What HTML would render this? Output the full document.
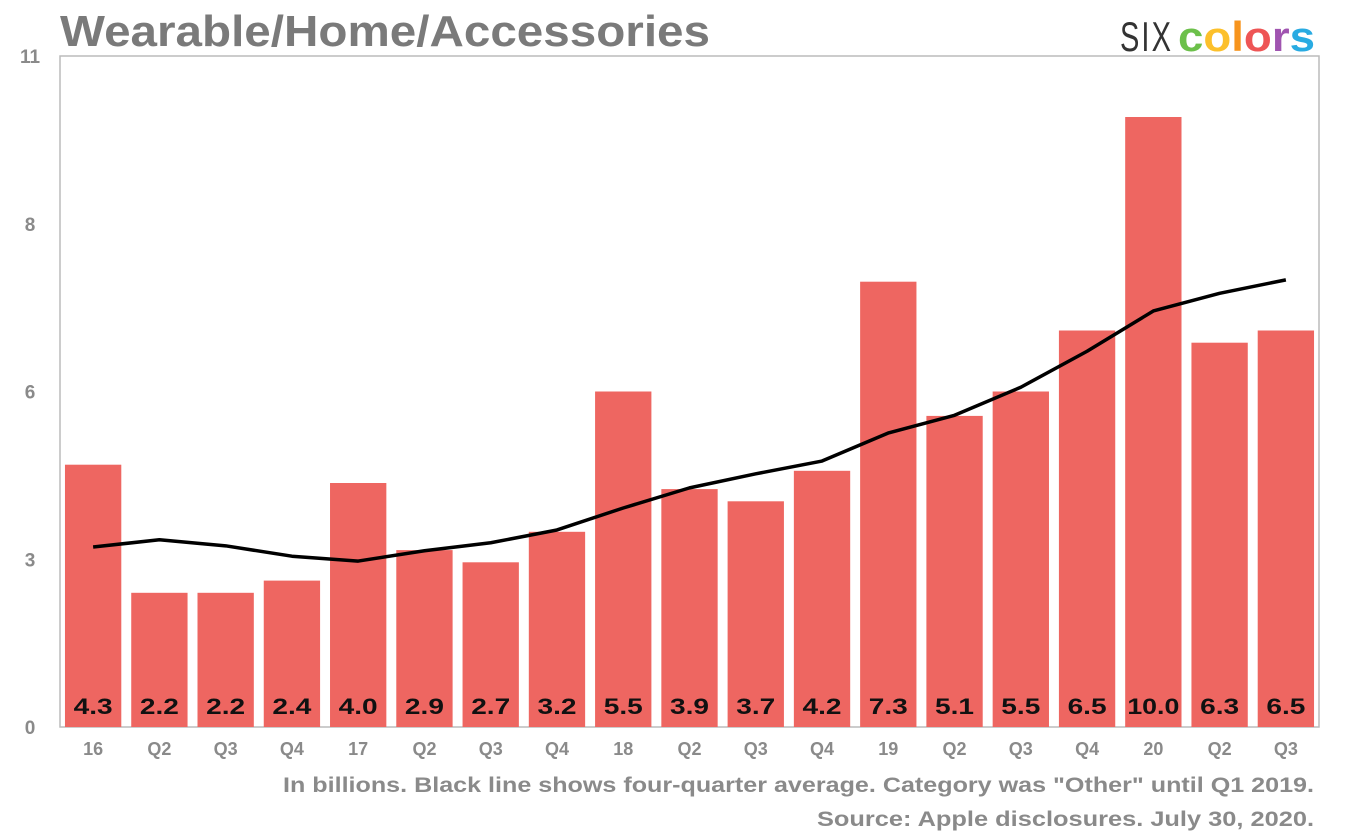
<!DOCTYPE html>
<html><head><meta charset="utf-8"><style>
body{margin:0;background:#fff;width:1360px;height:835px;overflow:hidden;font-family:"Liberation Sans",sans-serif}
svg text{font-family:"Liberation Sans",sans-serif}
</style></head><body>
<svg id="chart" width="1360" height="835" xmlns="http://www.w3.org/2000/svg">
<text x="60" y="46" font-size="44" font-weight="bold" fill="#7a7a7a" textLength="650" lengthAdjust="spacingAndGlyphs">Wearable/Home/Accessories</text>
<g font-size="42">
<text x="1120" y="51" fill="#333" font-weight="normal" letter-spacing="3" textLength="53" lengthAdjust="spacingAndGlyphs">SIX</text>
<text x="1178" y="51" font-weight="bold" textLength="137" lengthAdjust="spacingAndGlyphs"><tspan fill="#6cc04a">c</tspan><tspan fill="#fcc02b">o</tspan><tspan fill="#f7941d">l</tspan><tspan fill="#ee5555">o</tspan><tspan fill="#a054b0">r</tspan><tspan fill="#29abe2">s</tspan></text>
</g>
<rect x="60" y="56" width="1259" height="671" fill="none" stroke="#bbb" stroke-width="1.5"/>
<g id="yaxis"></g><g id="bars"></g><g id="xaxis"></g><g id="line"></g>
<text x="283" y="792" font-size="21" font-weight="bold" fill="#8a8a8a" textLength="1031" lengthAdjust="spacingAndGlyphs">In billions. Black line shows four-quarter average. Category was "Other" until Q1 2019.</text>
<text x="817" y="826" font-size="21" font-weight="bold" fill="#8a8a8a" textLength="497" lengthAdjust="spacingAndGlyphs">Source: Apple disclosures. July 30, 2020.</text>
</svg>
<script>
const categories=["16","Q2","Q3","Q4","17","Q2","Q3","Q4","18","Q2","Q3","Q4","19","Q2","Q3","Q4","20","Q2","Q3"];
const revenue=[4.3,2.2,2.2,2.4,4.0,2.9,2.7,3.2,5.5,3.9,3.7,4.2,7.3,5.1,5.5,6.5,10.0,6.3,6.5];
const average=[2.95,3.07,2.97,2.8,2.72,2.89,3.02,3.23,3.59,3.92,4.15,4.36,4.82,5.11,5.57,6.16,6.82,7.11,7.33];
const yTicks=[0,2.75,5.5,8.25,11];
const yTickLabels=["0","3","6","8","11"];
const NS="http://www.w3.org/2000/svg";
const L=60,R=1319,T=56,B=727,yMax=11;
const band=(R-L)/categories.length;
const y=v=>B-(v/yMax)*(B-T);
const xc=i=>L+band*(i+0.5);
function mk(tag,attrs,parent,txt){const e=document.createElementNS(NS,tag);for(const k in attrs)e.setAttribute(k,attrs[k]);if(txt!=null)e.textContent=txt;parent.appendChild(e);return e;}
const ya=document.getElementById('yaxis'),bg=document.getElementById('bars'),xa=document.getElementById('xaxis'),lg=document.getElementById('line');
yTicks.forEach((t,i)=>{const e=mk('text',{x:30,y:y(t)+7,'text-anchor':'middle','font-size':19,'font-weight':'bold',fill:'#8a8a8a'},ya,yTickLabels[i]);

});
revenue.forEach((v,i)=>{const bw=band*0.85;
const r=mk('rect',{x:xc(i)-bw/2,y:y(v),width:bw,height:B-y(v),fill:'#ee6661'},bg);


const s=v.toFixed(1);
const t=mk('text',{x:xc(i),y:714,'text-anchor':'middle','font-size':22,'font-weight':'bold',fill:'#111',textLength:s.length*13,lengthAdjust:'spacingAndGlyphs'},bg,s);


const c=mk('text',{x:xc(i),y:755,'text-anchor':'middle','font-size':18,'font-weight':'bold',fill:'#8a8a8a'},xa,categories[i]);

});
const p=mk('polyline',{points:average.map((v,i)=>xc(i)+','+y(v)).join(' '),fill:'none',stroke:'#000','stroke-width':3.5,'stroke-linejoin':'round'},lg);


</script>
</body></html>
